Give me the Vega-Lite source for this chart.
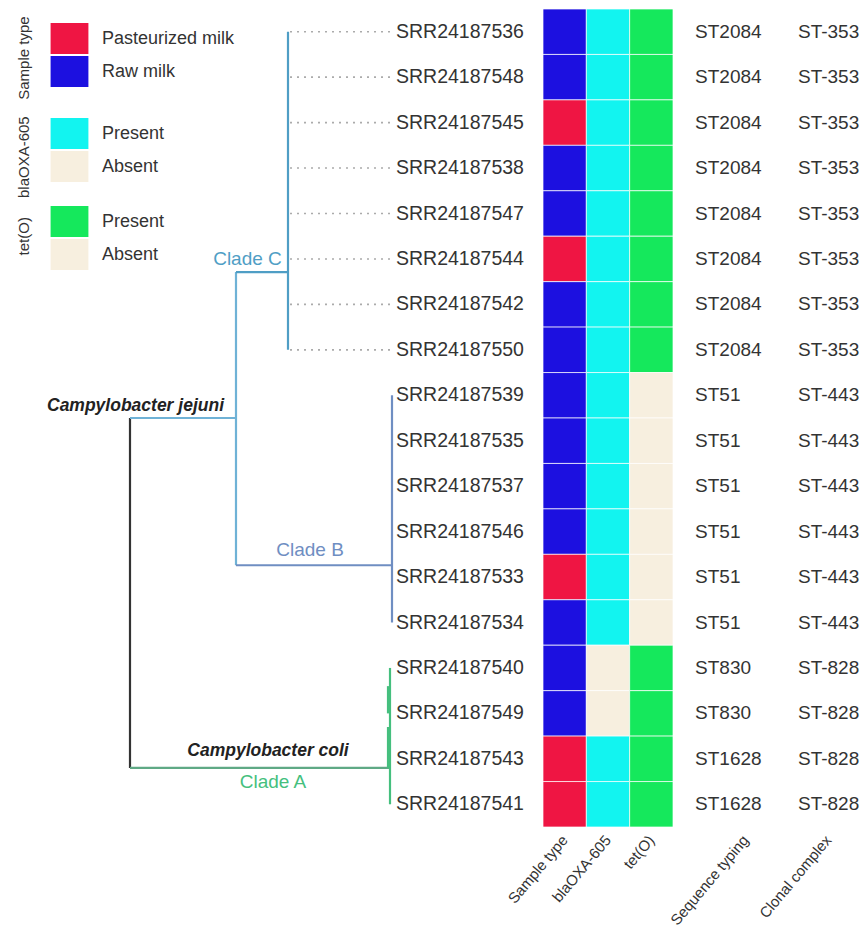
{
  "$schema": "https://vega.github.io/schema/vega-lite/v6.json",
  "background": "white",
  "padding": {"left": 0, "top": 8, "right": 0, "bottom": 0},
  "bounds": "flush",
  "spacing": 0,
  "config": {"view": {"stroke": null}, "font": "Liberation Sans"},
  "resolve": {"scale": {"x": "independent", "y": "independent", "color": "independent"}, "legend": {"color": "independent"}},
  "datasets": {
    "samples": [
      {"row": 0, "id": "SRR24187536", "sample": "Raw milk", "bla": "Present", "tet": "Present", "st": "ST2084", "cc": "ST-353"},
      {"row": 1, "id": "SRR24187548", "sample": "Raw milk", "bla": "Present", "tet": "Present", "st": "ST2084", "cc": "ST-353"},
      {"row": 2, "id": "SRR24187545", "sample": "Pasteurized milk", "bla": "Present", "tet": "Present", "st": "ST2084", "cc": "ST-353"},
      {"row": 3, "id": "SRR24187538", "sample": "Raw milk", "bla": "Present", "tet": "Present", "st": "ST2084", "cc": "ST-353"},
      {"row": 4, "id": "SRR24187547", "sample": "Raw milk", "bla": "Present", "tet": "Present", "st": "ST2084", "cc": "ST-353"},
      {"row": 5, "id": "SRR24187544", "sample": "Pasteurized milk", "bla": "Present", "tet": "Present", "st": "ST2084", "cc": "ST-353"},
      {"row": 6, "id": "SRR24187542", "sample": "Raw milk", "bla": "Present", "tet": "Present", "st": "ST2084", "cc": "ST-353"},
      {"row": 7, "id": "SRR24187550", "sample": "Raw milk", "bla": "Present", "tet": "Present", "st": "ST2084", "cc": "ST-353"},
      {"row": 8, "id": "SRR24187539", "sample": "Raw milk", "bla": "Present", "tet": "Absent", "st": "ST51", "cc": "ST-443"},
      {"row": 9, "id": "SRR24187535", "sample": "Raw milk", "bla": "Present", "tet": "Absent", "st": "ST51", "cc": "ST-443"},
      {"row": 10, "id": "SRR24187537", "sample": "Raw milk", "bla": "Present", "tet": "Absent", "st": "ST51", "cc": "ST-443"},
      {"row": 11, "id": "SRR24187546", "sample": "Raw milk", "bla": "Present", "tet": "Absent", "st": "ST51", "cc": "ST-443"},
      {"row": 12, "id": "SRR24187533", "sample": "Pasteurized milk", "bla": "Present", "tet": "Absent", "st": "ST51", "cc": "ST-443"},
      {"row": 13, "id": "SRR24187534", "sample": "Raw milk", "bla": "Present", "tet": "Absent", "st": "ST51", "cc": "ST-443"},
      {"row": 14, "id": "SRR24187540", "sample": "Raw milk", "bla": "Absent", "tet": "Present", "st": "ST830", "cc": "ST-828"},
      {"row": 15, "id": "SRR24187549", "sample": "Raw milk", "bla": "Absent", "tet": "Present", "st": "ST830", "cc": "ST-828"},
      {"row": 16, "id": "SRR24187543", "sample": "Pasteurized milk", "bla": "Present", "tet": "Present", "st": "ST1628", "cc": "ST-828"},
      {"row": 17, "id": "SRR24187541", "sample": "Pasteurized milk", "bla": "Present", "tet": "Present", "st": "ST1628", "cc": "ST-828"}
    ],
    "tree": [
      {"x": 0, "x2": 0, "y": 8.5, "y2": 16.2, "part": "root"},
      {"x": 0, "x2": 1.06, "y": 8.5, "y2": 8.5, "part": "jejuni"},
      {"x": 0, "x2": 2.6, "y": 16.2, "y2": 16.2, "part": "coli"},
      {"x": 1.06, "x2": 1.06, "y": 5.29, "y2": 11.74, "part": "jejuni"},
      {"x": 1.06, "x2": 1.58, "y": 5.29, "y2": 5.29, "part": "C"},
      {"x": 1.58, "x2": 1.58, "y": 0, "y2": 7, "part": "C"},
      {"x": 1.06, "x2": 2.62, "y": 11.74, "y2": 11.74, "part": "B"},
      {"x": 2.62, "x2": 2.62, "y": 8, "y2": 13, "part": "B"},
      {"x": 2.6, "x2": 2.6, "y": 14, "y2": 17, "part": "A"},
      {"x": 2.58, "x2": 2.58, "y": 14.4, "y2": 15.0, "part": "A"},
      {"x": 2.58, "x2": 2.58, "y": 15.3, "y2": 16.2, "part": "A"},
      {"x": 1.6, "x2": 2.62, "y": 0, "y2": 0, "part": "dot"},
      {"x": 1.6, "x2": 2.62, "y": 1, "y2": 1, "part": "dot"},
      {"x": 1.6, "x2": 2.62, "y": 2, "y2": 2, "part": "dot"},
      {"x": 1.6, "x2": 2.62, "y": 3, "y2": 3, "part": "dot"},
      {"x": 1.6, "x2": 2.62, "y": 4, "y2": 4, "part": "dot"},
      {"x": 1.6, "x2": 2.62, "y": 5, "y2": 5, "part": "dot"},
      {"x": 1.6, "x2": 2.62, "y": 6, "y2": 6, "part": "dot"},
      {"x": 1.6, "x2": 2.62, "y": 7, "y2": 7, "part": "dot"}
    ],
    "notes": [
      {"x": 0.055, "y": 8.24, "label": "Campylobacter jejuni", "part": "species"},
      {"x": 1.38, "y": 15.83, "label": "Campylobacter coli", "part": "species"},
      {"x": 1.175, "y": 5.0, "label": "Clade C", "part": "C"},
      {"x": 1.8, "y": 11.41, "label": "Clade B", "part": "B"},
      {"x": 1.43, "y": 16.51, "label": "Clade A", "part": "A"}
    ],
    "legendTitles": [
      {"x": -1.06, "y": 0.58, "label": "Sample type"},
      {"x": -1.06, "y": 2.76, "label": "blaOXA-605"},
      {"x": -1.06, "y": 4.5, "label": "tet(O)"}
    ]
  },
  "hconcat": [
    {
      "width": 543,
      "height": 818,
      "layer": [
        {
          "data": {"name": "tree"},
          "transform": [{"filter": "datum.part !== 'dot'"}],
          "mark": {"type": "rule", "strokeWidth": 2.2},
          "encoding": {
            "x": {"field": "x", "type": "quantitative", "scale": {"domain": [-1.3, 4.13], "nice": false, "zero": false}, "axis": null},
            "x2": {"field": "x2"},
            "y": {"field": "y", "type": "quantitative", "scale": {"domain": [-0.5, 17.5], "reverse": true, "nice": false, "zero": false}, "axis": null},
            "y2": {"field": "y2"},
            "color": {"field": "part", "type": "nominal", "scale": {"domain": ["root", "jejuni", "coli", "C", "B", "A", "dot"], "range": ["#333333", "#6fb2d6", "#5fa985", "#4f9ec5", "#6f8ec2", "#45bf7e", "#a8a8a8"]}, "legend": null}
          }
        },
        {
          "data": {"name": "tree"},
          "transform": [{"filter": "datum.part === 'dot'"}],
          "mark": {"type": "rule", "strokeWidth": 1.6, "strokeDash": [2, 5], "color": "#ababab"},
          "encoding": {
            "x": {"field": "x", "type": "quantitative"},
            "x2": {"field": "x2"},
            "y": {"field": "y", "type": "quantitative"},
            "y2": {"field": "y2"}
          }
        },
        {
          "data": {"name": "samples"},
          "mark": {"type": "text", "align": "left", "baseline": "middle", "dx": 4, "fontSize": 19.5, "color": "#333333"},
          "encoding": {
            "x": {"datum": 2.62, "type": "quantitative"},
            "y": {"field": "row", "type": "quantitative"},
            "text": {"field": "id"}
          }
        },
        {
          "data": {"name": "notes"},
          "transform": [{"filter": "datum.part === 'species'"}],
          "mark": {"type": "text", "align": "center", "baseline": "middle", "fontSize": 17.5, "fontWeight": "bold", "fontStyle": "italic", "color": "#222222"},
          "encoding": {
            "x": {"field": "x", "type": "quantitative"},
            "y": {"field": "y", "type": "quantitative"},
            "text": {"field": "label"}
          }
        },
        {
          "data": {"name": "notes"},
          "transform": [{"filter": "datum.part !== 'species'"}],
          "mark": {"type": "text", "align": "center", "baseline": "middle", "fontSize": 19},
          "encoding": {
            "x": {"field": "x", "type": "quantitative"},
            "y": {"field": "y", "type": "quantitative"},
            "text": {"field": "label"},
            "color": {"field": "part", "type": "nominal", "legend": null}
          }
        },
        {
          "data": {"name": "legendTitles"},
          "mark": {"type": "text", "align": "center", "baseline": "middle", "angle": 270, "fontSize": 15, "color": "#333333"},
          "encoding": {
            "x": {"field": "x", "type": "quantitative"},
            "y": {"field": "y", "type": "quantitative"},
            "text": {"field": "label"}
          }
        }
      ]
    },
    {
      "width": 130,
      "height": 818,
      "data": {"name": "samples"},
      "encoding": {
        "y": {"field": "id", "type": "nominal", "sort": null, "scale": {"paddingInner": 0, "paddingOuter": 0}, "axis": null}
      },
      "layer": [
        {
          "mark": {"type": "rect", "stroke": "white", "strokeWidth": 1, "strokeOpacity": 0.7},
          "encoding": {
            "x": {"datum": "Sample type", "type": "nominal", "scale": {"domain": ["Sample type", "blaOXA-605", "tet(O)"], "paddingInner": 0, "paddingOuter": 0},
              "axis": {"title": null, "domain": false, "ticks": false, "labelAngle": -50, "labelFontSize": 15, "labelColor": "#333333", "labelPadding": 10}},
            "color": {"field": "sample", "type": "nominal",
              "scale": {"domain": ["Pasteurized milk", "Raw milk"], "range": ["#ef1543", "#1c10e0"]},
              "legend": {"orient": "none", "legendX": -489, "legendY": 14, "title": null,
                "labelFontSize": 18, "labelColor": "#333333", "labelOffset": 17, "symbolType": "M-1.22,-1H1.22V1H-1.22Z", "symbolSize": 961, "symbolStrokeWidth": 0, "symbolOpacity": 1, "rowPadding": 2}}
          }
        },
        {
          "mark": {"type": "rect", "stroke": "white", "strokeWidth": 1, "strokeOpacity": 0.7},
          "encoding": {
            "x": {"datum": "blaOXA-605", "type": "nominal"},
            "color": {"field": "bla", "type": "nominal",
              "scale": {"domain": ["Present", "Absent"], "range": ["#12f4f0", "#f7efdf"]},
              "legend": {"orient": "none", "legendX": -489, "legendY": 109, "title": null,
                "labelFontSize": 18, "labelColor": "#333333", "labelOffset": 17, "symbolType": "M-1.22,-1H1.22V1H-1.22Z", "symbolSize": 961, "symbolStrokeWidth": 0, "symbolOpacity": 1, "rowPadding": 2}}
          }
        },
        {
          "mark": {"type": "rect", "stroke": "white", "strokeWidth": 1, "strokeOpacity": 0.7},
          "encoding": {
            "x": {"datum": "tet(O)", "type": "nominal"},
            "color": {"field": "tet", "type": "nominal",
              "scale": {"domain": ["Present", "Absent"], "range": ["#15e85c", "#f7efdf"]},
              "legend": {"orient": "none", "legendX": -489, "legendY": 197, "title": null,
                "labelFontSize": 18, "labelColor": "#333333", "labelOffset": 17, "symbolType": "M-1.22,-1H1.22V1H-1.22Z", "symbolSize": 961, "symbolStrokeWidth": 0, "symbolOpacity": 1, "rowPadding": 2}}
          }
        }
      ],
      "resolve": {"scale": {"color": "independent"}, "legend": {"color": "independent"}}
    },
    {
      "width": 147,
      "height": 818,
      "data": {"name": "samples"},
      "encoding": {
        "y": {"field": "id", "type": "nominal", "sort": null, "scale": {"paddingInner": 0, "paddingOuter": 0}, "axis": null}
      },
      "layer": [
        {
          "mark": {"type": "text", "align": "left", "baseline": "middle", "fontSize": 19, "color": "#333333"},
          "encoding": {
            "x": {"datum": "Sequence typing", "type": "nominal", "scale": {"type": "point", "domain": ["Sequence typing", "Clonal complex"], "padding": 0.214},
              "axis": {"title": null, "domain": false, "ticks": false, "labelAngle": -50, "labelFontSize": 15, "labelColor": "#333333", "labelPadding": 10,
                "labelOffset": {"condition": {"test": "datum.value === 'Sequence typing'", "value": 50}, "value": 30}}},
            "text": {"field": "st"}
          }
        },
        {
          "mark": {"type": "text", "align": "left", "baseline": "middle", "fontSize": 19, "color": "#333333"},
          "encoding": {
            "x": {"datum": "Clonal complex", "type": "nominal"},
            "text": {"field": "cc"}
          }
        }
      ]
    }
  ]
}
